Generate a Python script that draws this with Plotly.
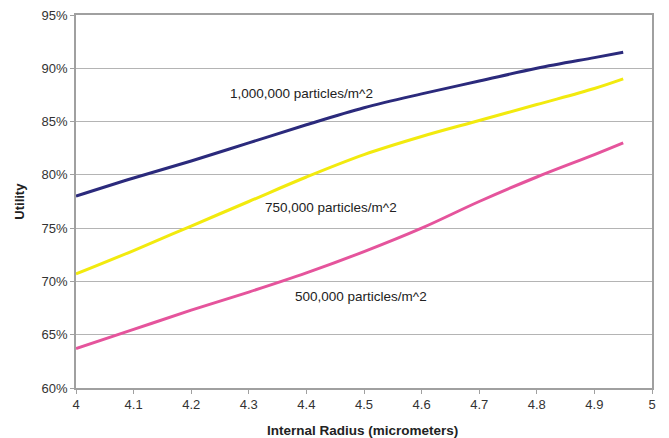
import plotly.graph_objects as go

radius = [4.0, 4.1, 4.2, 4.3, 4.4, 4.5, 4.6, 4.7, 4.8, 4.9, 4.95]
util_1000k = [78.0, 79.7, 81.3, 83.0, 84.7, 86.3, 87.6, 88.8, 90.0, 91.0, 91.5]
util_750k = [70.7, 72.9, 75.2, 77.5, 79.8, 81.9, 83.6, 85.1, 86.6, 88.1, 89.0]
util_500k = [63.7, 65.5, 67.3, 69.0, 70.8, 72.8, 75.0, 77.5, 79.8, 81.9, 83.0]
series_names = ["1,000,000 particles/m^2", "750,000 particles/m^2", "500,000 particles/m^2"]
colors = ["#2B2A7C", "#F2EA0E", "#E5549C"]
y_ticks = [60, 65, 70, 75, 80, 85, 90, 95]
x_ticks = [4, 4.1, 4.2, 4.3, 4.4, 4.5, 4.6, 4.7, 4.8, 4.9, 5]

fig = go.Figure()
for name, vals, c in zip(series_names, [util_1000k, util_750k, util_500k], colors):
    fig.add_trace(go.Scatter(x=radius, y=vals, mode="lines", name=name,
                             line=dict(color=c, width=3, shape="spline", smoothing=1.0)))

label_pos = [(4.391, 87.68), (4.443, 76.98), (4.495, 68.54)]
for name, (lx, ly) in zip(series_names, label_pos):
    fig.add_annotation(x=lx, y=ly, text=name, showarrow=False,
                       font=dict(size=13.5, color="#222222"))

fig.add_annotation(xref="paper", yref="paper", x=0.498, y=-0.115, text="<b>Internal Radius (micrometers)</b>",
                   showarrow=False, font=dict(size=13.5, color="#222222"), yanchor="middle")
fig.add_annotation(xref="paper", yref="paper", x=-0.098, y=0.501, text="<b>Utility</b>", textangle=-90,
                   showarrow=False, font=dict(size=13, color="#222222"), xanchor="center", yanchor="middle")

fig.update_layout(
    width=669, height=438,
    margin=dict(l=76, r=17, t=15, b=50),
    paper_bgcolor="white", plot_bgcolor="white",
    showlegend=False,
    font=dict(family="Liberation Sans, Arial, sans-serif", size=13, color="#333333"),
)
fig.update_xaxes(range=[4, 5], tickvals=x_ticks, ticktext=[str(t) for t in x_ticks],
                 showgrid=False, showline=True, linecolor="#A0A0A0", linewidth=1.5,
                 mirror=True, ticks="outside", ticklen=4, tickcolor="#A0A0A0",
                 zeroline=False, automargin=False)
fig.update_yaxes(range=[60, 95], tickvals=y_ticks, ticktext=[f"{t}%" for t in y_ticks],
                 showgrid=True, gridcolor="#B4B4B4", gridwidth=1.2,
                 showline=True, linecolor="#A0A0A0", linewidth=1.5, mirror=True,
                 ticks="outside", ticklen=4, tickcolor="#A0A0A0", zeroline=False,
                 automargin=False)

fig.write_html("out.html", config={"displayModeBar": False},
               post_script="document.body.style.margin='0px';")
